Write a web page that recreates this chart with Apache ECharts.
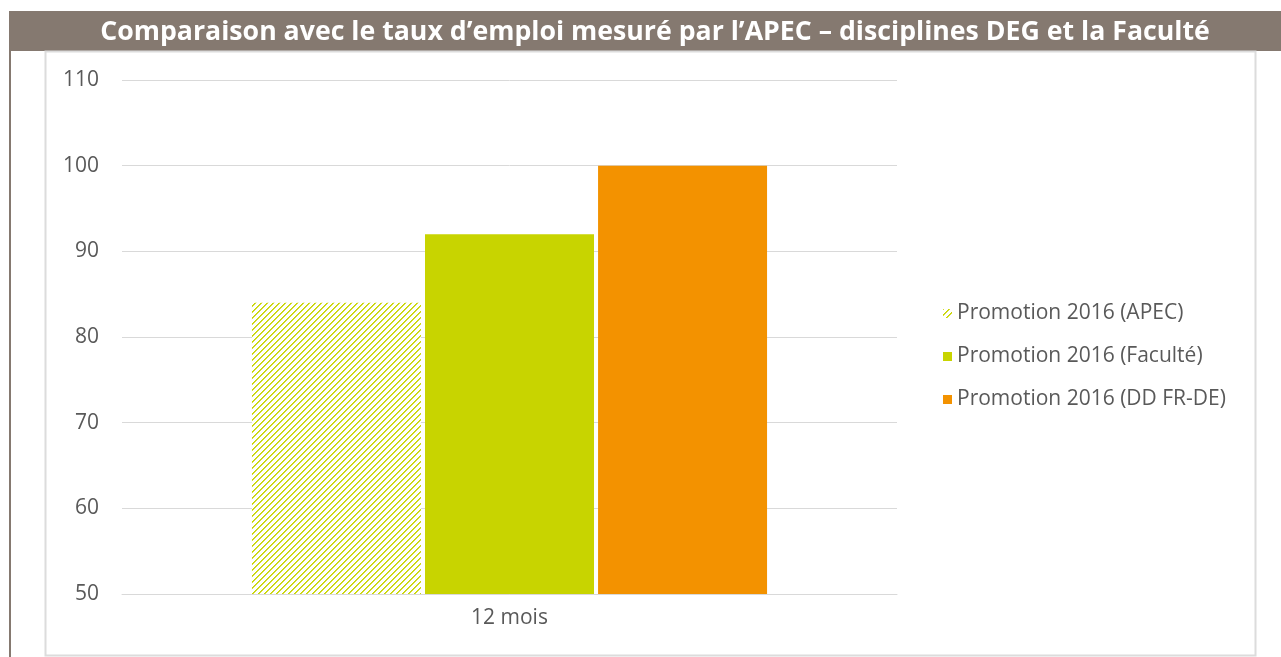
<!DOCTYPE html>
<html><head><meta charset="utf-8">
<script src="https://cdn.jsdelivr.net/npm/echarts@6/dist/echarts.min.js"></script>
<style>html,body{margin:0;padding:0;background:#fff;}#c{width:1281px;height:657px;}</style>
</head><body><div id="c"></div>
<script>
const titleText = "Comparaison avec le taux d’emploi mesuré par l’APEC – disciplines DEG et la Faculté";
const categories = ["12 mois"];
const seriesNames = ["Promotion 2016 (APEC)", "Promotion 2016 (Faculté)", "Promotion 2016 (DD FR-DE)"];
const apec = [84];
const faculte = [92];
const ddfrde = [100];
const yTicks = [50, 60, 70, 80, 90, 100, 110];

const green = '#c8d400';
const orange = '#f39200';

// hatch pattern
const P = 6;
const pc = document.createElement('canvas');
pc.width = P; pc.height = P;
const px = pc.getContext('2d');
px.fillStyle = '#ffffff'; px.fillRect(0,0,P,P);
px.fillStyle = green;
for (let i = 0; i < P; i++) { px.fillRect(i, P - 1 - i, 1, 1); }
px.globalAlpha = 0.8;
for (let i = 0; i < P; i++) { px.fillRect((i + 1) % P, P - 1 - i, 1, 1); }
const hatch = { image: pc, repeat: 'repeat' };

const font = "'Open Sans', sans-serif";
const chart = echarts.init(document.getElementById('c'));
chart.setOption({
  animation: false,
  textStyle: { fontFamily: font },
  graphic: [
    { type: 'rect', shape: { x: 9, y: 11, width: 1272, height: 40 }, style: { fill: '#857970' }, silent: true },
    { type: 'rect', shape: { x: 9, y: 11, width: 2, height: 646 }, style: { fill: '#857970' }, silent: true },
    { type: 'rect', shape: { x: 45.5, y: 51.5, width: 1210, height: 604 }, style: { fill: 'none', stroke: '#dcdcdc', lineWidth: 2 }, silent: true },
    { type: 'text', x: 655, y: 32, style: { text: titleText, fill: '#ffffff', font: "bold 26.7px 'Open Sans', sans-serif", textAlign: 'center', textVerticalAlign: 'middle' }, silent: true }
  ],
  legend: {
    orient: 'vertical', left: 938, top: 298, itemGap: 22, itemWidth: 9, itemHeight: 9,
    icon: 'rect',
    textStyle: { fontSize: 21, color: '#595959', fontFamily: font },
    data: seriesNames
  },
  grid: { left: 122, right: 384, top: 80, bottom: 63, containLabel: false },
  xAxis: {
    type: 'category', data: categories,
    axisLine: { lineStyle: { color: '#d9d9d9', width: 1 } },
    axisTick: { show: false },
    axisLabel: { fontSize: 21, color: '#595959', margin: 14 }
  },
  yAxis: {
    type: 'value', min: yTicks[0], max: yTicks[yTicks.length - 1], interval: 10,
    axisLine: { show: false }, axisTick: { show: false },
    splitLine: { lineStyle: { color: '#d9d9d9', width: 1 } },
    axisLabel: { fontSize: 21, color: '#595959', margin: 23 }
  },
  series: [
    { name: seriesNames[0], type: 'bar', data: apec, barWidth: 169, barGap: '2.4%', itemStyle: { color: hatch } },
    { name: seriesNames[1], type: 'bar', data: faculte, barWidth: 169, barGap: '2.4%', itemStyle: { color: green } },
    { name: seriesNames[2], type: 'bar', data: ddfrde, barWidth: 169, barGap: '2.4%', itemStyle: { color: orange } }
  ]
});
</script></body></html>
